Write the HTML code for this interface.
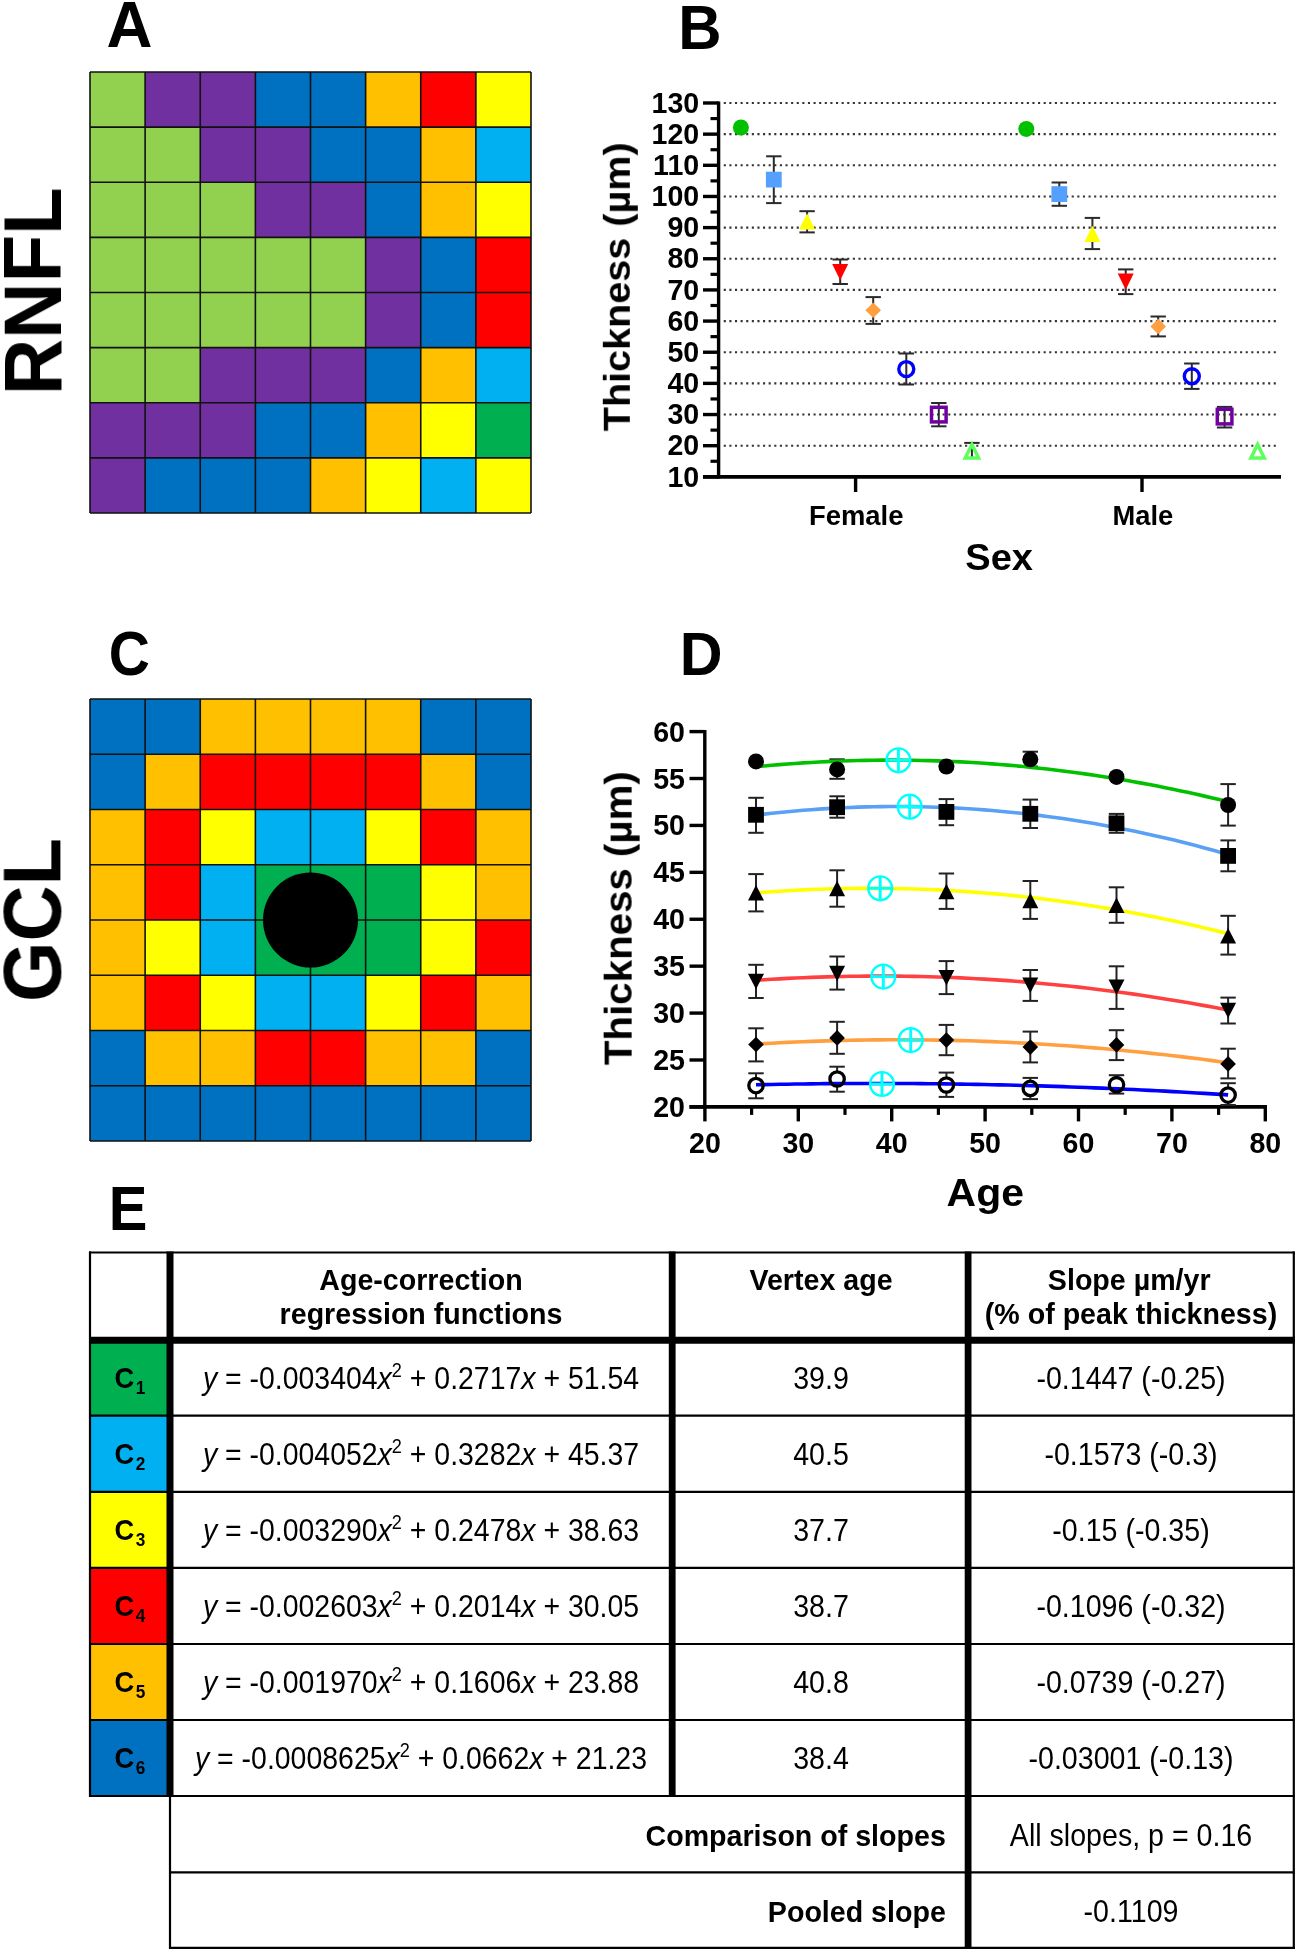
<!DOCTYPE html>
<html><head><meta charset="utf-8"><style>
text{filter:blur(0)}
html,body{margin:0;padding:0;background:#fff;width:1298px;height:1954px;overflow:hidden;}
body{position:relative;font-family:'Liberation Sans', sans-serif;}
</style></head><body>
<svg width="1298" height="1954" viewBox="0 0 1298 1954" style="position:absolute;left:0;top:0;font-family:'Liberation Sans', sans-serif">
<rect width="1298" height="1954" fill="#fff"/>
<rect x="90.00" y="72.00" width="55.17" height="55.17" fill="#92d050"/>
<rect x="145.12" y="72.00" width="55.17" height="55.17" fill="#7030a0"/>
<rect x="200.25" y="72.00" width="55.17" height="55.17" fill="#7030a0"/>
<rect x="255.38" y="72.00" width="55.17" height="55.17" fill="#0070c0"/>
<rect x="310.50" y="72.00" width="55.17" height="55.17" fill="#0070c0"/>
<rect x="365.62" y="72.00" width="55.17" height="55.17" fill="#ffc000"/>
<rect x="420.75" y="72.00" width="55.17" height="55.17" fill="#ff0000"/>
<rect x="475.88" y="72.00" width="55.17" height="55.17" fill="#ffff00"/>
<rect x="90.00" y="127.12" width="55.17" height="55.17" fill="#92d050"/>
<rect x="145.12" y="127.12" width="55.17" height="55.17" fill="#92d050"/>
<rect x="200.25" y="127.12" width="55.17" height="55.17" fill="#7030a0"/>
<rect x="255.38" y="127.12" width="55.17" height="55.17" fill="#7030a0"/>
<rect x="310.50" y="127.12" width="55.17" height="55.17" fill="#0070c0"/>
<rect x="365.62" y="127.12" width="55.17" height="55.17" fill="#0070c0"/>
<rect x="420.75" y="127.12" width="55.17" height="55.17" fill="#ffc000"/>
<rect x="475.88" y="127.12" width="55.17" height="55.17" fill="#00b0f0"/>
<rect x="90.00" y="182.25" width="55.17" height="55.17" fill="#92d050"/>
<rect x="145.12" y="182.25" width="55.17" height="55.17" fill="#92d050"/>
<rect x="200.25" y="182.25" width="55.17" height="55.17" fill="#92d050"/>
<rect x="255.38" y="182.25" width="55.17" height="55.17" fill="#7030a0"/>
<rect x="310.50" y="182.25" width="55.17" height="55.17" fill="#7030a0"/>
<rect x="365.62" y="182.25" width="55.17" height="55.17" fill="#0070c0"/>
<rect x="420.75" y="182.25" width="55.17" height="55.17" fill="#ffc000"/>
<rect x="475.88" y="182.25" width="55.17" height="55.17" fill="#ffff00"/>
<rect x="90.00" y="237.38" width="55.17" height="55.17" fill="#92d050"/>
<rect x="145.12" y="237.38" width="55.17" height="55.17" fill="#92d050"/>
<rect x="200.25" y="237.38" width="55.17" height="55.17" fill="#92d050"/>
<rect x="255.38" y="237.38" width="55.17" height="55.17" fill="#92d050"/>
<rect x="310.50" y="237.38" width="55.17" height="55.17" fill="#92d050"/>
<rect x="365.62" y="237.38" width="55.17" height="55.17" fill="#7030a0"/>
<rect x="420.75" y="237.38" width="55.17" height="55.17" fill="#0070c0"/>
<rect x="475.88" y="237.38" width="55.17" height="55.17" fill="#ff0000"/>
<rect x="90.00" y="292.50" width="55.17" height="55.17" fill="#92d050"/>
<rect x="145.12" y="292.50" width="55.17" height="55.17" fill="#92d050"/>
<rect x="200.25" y="292.50" width="55.17" height="55.17" fill="#92d050"/>
<rect x="255.38" y="292.50" width="55.17" height="55.17" fill="#92d050"/>
<rect x="310.50" y="292.50" width="55.17" height="55.17" fill="#92d050"/>
<rect x="365.62" y="292.50" width="55.17" height="55.17" fill="#7030a0"/>
<rect x="420.75" y="292.50" width="55.17" height="55.17" fill="#0070c0"/>
<rect x="475.88" y="292.50" width="55.17" height="55.17" fill="#ff0000"/>
<rect x="90.00" y="347.62" width="55.17" height="55.17" fill="#92d050"/>
<rect x="145.12" y="347.62" width="55.17" height="55.17" fill="#92d050"/>
<rect x="200.25" y="347.62" width="55.17" height="55.17" fill="#7030a0"/>
<rect x="255.38" y="347.62" width="55.17" height="55.17" fill="#7030a0"/>
<rect x="310.50" y="347.62" width="55.17" height="55.17" fill="#7030a0"/>
<rect x="365.62" y="347.62" width="55.17" height="55.17" fill="#0070c0"/>
<rect x="420.75" y="347.62" width="55.17" height="55.17" fill="#ffc000"/>
<rect x="475.88" y="347.62" width="55.17" height="55.17" fill="#00b0f0"/>
<rect x="90.00" y="402.75" width="55.17" height="55.17" fill="#7030a0"/>
<rect x="145.12" y="402.75" width="55.17" height="55.17" fill="#7030a0"/>
<rect x="200.25" y="402.75" width="55.17" height="55.17" fill="#7030a0"/>
<rect x="255.38" y="402.75" width="55.17" height="55.17" fill="#0070c0"/>
<rect x="310.50" y="402.75" width="55.17" height="55.17" fill="#0070c0"/>
<rect x="365.62" y="402.75" width="55.17" height="55.17" fill="#ffc000"/>
<rect x="420.75" y="402.75" width="55.17" height="55.17" fill="#ffff00"/>
<rect x="475.88" y="402.75" width="55.17" height="55.17" fill="#00b050"/>
<rect x="90.00" y="457.88" width="55.17" height="55.17" fill="#7030a0"/>
<rect x="145.12" y="457.88" width="55.17" height="55.17" fill="#0070c0"/>
<rect x="200.25" y="457.88" width="55.17" height="55.17" fill="#0070c0"/>
<rect x="255.38" y="457.88" width="55.17" height="55.17" fill="#0070c0"/>
<rect x="310.50" y="457.88" width="55.17" height="55.17" fill="#ffc000"/>
<rect x="365.62" y="457.88" width="55.17" height="55.17" fill="#ffff00"/>
<rect x="420.75" y="457.88" width="55.17" height="55.17" fill="#00b0f0"/>
<rect x="475.88" y="457.88" width="55.17" height="55.17" fill="#ffff00"/>
<line x1="90.00" y1="72.00" x2="90.00" y2="513.00" stroke="#111" stroke-width="1.6"/>
<line x1="90.00" y1="72.00" x2="531.00" y2="72.00" stroke="#111" stroke-width="1.6"/>
<line x1="145.12" y1="72.00" x2="145.12" y2="513.00" stroke="#111" stroke-width="1.6"/>
<line x1="90.00" y1="127.12" x2="531.00" y2="127.12" stroke="#111" stroke-width="1.6"/>
<line x1="200.25" y1="72.00" x2="200.25" y2="513.00" stroke="#111" stroke-width="1.6"/>
<line x1="90.00" y1="182.25" x2="531.00" y2="182.25" stroke="#111" stroke-width="1.6"/>
<line x1="255.38" y1="72.00" x2="255.38" y2="513.00" stroke="#111" stroke-width="1.6"/>
<line x1="90.00" y1="237.38" x2="531.00" y2="237.38" stroke="#111" stroke-width="1.6"/>
<line x1="310.50" y1="72.00" x2="310.50" y2="513.00" stroke="#111" stroke-width="1.6"/>
<line x1="90.00" y1="292.50" x2="531.00" y2="292.50" stroke="#111" stroke-width="1.6"/>
<line x1="365.62" y1="72.00" x2="365.62" y2="513.00" stroke="#111" stroke-width="1.6"/>
<line x1="90.00" y1="347.62" x2="531.00" y2="347.62" stroke="#111" stroke-width="1.6"/>
<line x1="420.75" y1="72.00" x2="420.75" y2="513.00" stroke="#111" stroke-width="1.6"/>
<line x1="90.00" y1="402.75" x2="531.00" y2="402.75" stroke="#111" stroke-width="1.6"/>
<line x1="475.88" y1="72.00" x2="475.88" y2="513.00" stroke="#111" stroke-width="1.6"/>
<line x1="90.00" y1="457.88" x2="531.00" y2="457.88" stroke="#111" stroke-width="1.6"/>
<line x1="531.00" y1="72.00" x2="531.00" y2="513.00" stroke="#111" stroke-width="1.6"/>
<line x1="90.00" y1="513.00" x2="531.00" y2="513.00" stroke="#111" stroke-width="1.6"/>
<rect x="90.00" y="699.00" width="55.17" height="55.30" fill="#0070c0"/>
<rect x="145.12" y="699.00" width="55.17" height="55.30" fill="#0070c0"/>
<rect x="200.25" y="699.00" width="55.17" height="55.30" fill="#ffc000"/>
<rect x="255.38" y="699.00" width="55.17" height="55.30" fill="#ffc000"/>
<rect x="310.50" y="699.00" width="55.17" height="55.30" fill="#ffc000"/>
<rect x="365.62" y="699.00" width="55.17" height="55.30" fill="#ffc000"/>
<rect x="420.75" y="699.00" width="55.17" height="55.30" fill="#0070c0"/>
<rect x="475.88" y="699.00" width="55.17" height="55.30" fill="#0070c0"/>
<rect x="90.00" y="754.25" width="55.17" height="55.30" fill="#0070c0"/>
<rect x="145.12" y="754.25" width="55.17" height="55.30" fill="#ffc000"/>
<rect x="200.25" y="754.25" width="55.17" height="55.30" fill="#ff0000"/>
<rect x="255.38" y="754.25" width="55.17" height="55.30" fill="#ff0000"/>
<rect x="310.50" y="754.25" width="55.17" height="55.30" fill="#ff0000"/>
<rect x="365.62" y="754.25" width="55.17" height="55.30" fill="#ff0000"/>
<rect x="420.75" y="754.25" width="55.17" height="55.30" fill="#ffc000"/>
<rect x="475.88" y="754.25" width="55.17" height="55.30" fill="#0070c0"/>
<rect x="90.00" y="809.50" width="55.17" height="55.30" fill="#ffc000"/>
<rect x="145.12" y="809.50" width="55.17" height="55.30" fill="#ff0000"/>
<rect x="200.25" y="809.50" width="55.17" height="55.30" fill="#ffff00"/>
<rect x="255.38" y="809.50" width="55.17" height="55.30" fill="#00b0f0"/>
<rect x="310.50" y="809.50" width="55.17" height="55.30" fill="#00b0f0"/>
<rect x="365.62" y="809.50" width="55.17" height="55.30" fill="#ffff00"/>
<rect x="420.75" y="809.50" width="55.17" height="55.30" fill="#ff0000"/>
<rect x="475.88" y="809.50" width="55.17" height="55.30" fill="#ffc000"/>
<rect x="90.00" y="864.75" width="55.17" height="55.30" fill="#ffc000"/>
<rect x="145.12" y="864.75" width="55.17" height="55.30" fill="#ff0000"/>
<rect x="200.25" y="864.75" width="55.17" height="55.30" fill="#00b0f0"/>
<rect x="255.38" y="864.75" width="55.17" height="55.30" fill="#00b050"/>
<rect x="310.50" y="864.75" width="55.17" height="55.30" fill="#00b050"/>
<rect x="365.62" y="864.75" width="55.17" height="55.30" fill="#00b050"/>
<rect x="420.75" y="864.75" width="55.17" height="55.30" fill="#ffff00"/>
<rect x="475.88" y="864.75" width="55.17" height="55.30" fill="#ffc000"/>
<rect x="90.00" y="920.00" width="55.17" height="55.30" fill="#ffc000"/>
<rect x="145.12" y="920.00" width="55.17" height="55.30" fill="#ffff00"/>
<rect x="200.25" y="920.00" width="55.17" height="55.30" fill="#00b0f0"/>
<rect x="255.38" y="920.00" width="55.17" height="55.30" fill="#00b050"/>
<rect x="310.50" y="920.00" width="55.17" height="55.30" fill="#00b050"/>
<rect x="365.62" y="920.00" width="55.17" height="55.30" fill="#00b050"/>
<rect x="420.75" y="920.00" width="55.17" height="55.30" fill="#ffff00"/>
<rect x="475.88" y="920.00" width="55.17" height="55.30" fill="#ff0000"/>
<rect x="90.00" y="975.25" width="55.17" height="55.30" fill="#ffc000"/>
<rect x="145.12" y="975.25" width="55.17" height="55.30" fill="#ff0000"/>
<rect x="200.25" y="975.25" width="55.17" height="55.30" fill="#ffff00"/>
<rect x="255.38" y="975.25" width="55.17" height="55.30" fill="#00b0f0"/>
<rect x="310.50" y="975.25" width="55.17" height="55.30" fill="#00b0f0"/>
<rect x="365.62" y="975.25" width="55.17" height="55.30" fill="#ffff00"/>
<rect x="420.75" y="975.25" width="55.17" height="55.30" fill="#ff0000"/>
<rect x="475.88" y="975.25" width="55.17" height="55.30" fill="#ffc000"/>
<rect x="90.00" y="1030.50" width="55.17" height="55.30" fill="#0070c0"/>
<rect x="145.12" y="1030.50" width="55.17" height="55.30" fill="#ffc000"/>
<rect x="200.25" y="1030.50" width="55.17" height="55.30" fill="#ffc000"/>
<rect x="255.38" y="1030.50" width="55.17" height="55.30" fill="#ff0000"/>
<rect x="310.50" y="1030.50" width="55.17" height="55.30" fill="#ff0000"/>
<rect x="365.62" y="1030.50" width="55.17" height="55.30" fill="#ffc000"/>
<rect x="420.75" y="1030.50" width="55.17" height="55.30" fill="#ffc000"/>
<rect x="475.88" y="1030.50" width="55.17" height="55.30" fill="#0070c0"/>
<rect x="90.00" y="1085.75" width="55.17" height="55.30" fill="#0070c0"/>
<rect x="145.12" y="1085.75" width="55.17" height="55.30" fill="#0070c0"/>
<rect x="200.25" y="1085.75" width="55.17" height="55.30" fill="#0070c0"/>
<rect x="255.38" y="1085.75" width="55.17" height="55.30" fill="#0070c0"/>
<rect x="310.50" y="1085.75" width="55.17" height="55.30" fill="#0070c0"/>
<rect x="365.62" y="1085.75" width="55.17" height="55.30" fill="#0070c0"/>
<rect x="420.75" y="1085.75" width="55.17" height="55.30" fill="#0070c0"/>
<rect x="475.88" y="1085.75" width="55.17" height="55.30" fill="#0070c0"/>
<line x1="90.00" y1="699.00" x2="90.00" y2="1141.00" stroke="#111" stroke-width="1.6"/>
<line x1="90.00" y1="699.00" x2="531.00" y2="699.00" stroke="#111" stroke-width="1.6"/>
<line x1="145.12" y1="699.00" x2="145.12" y2="1141.00" stroke="#111" stroke-width="1.6"/>
<line x1="90.00" y1="754.25" x2="531.00" y2="754.25" stroke="#111" stroke-width="1.6"/>
<line x1="200.25" y1="699.00" x2="200.25" y2="1141.00" stroke="#111" stroke-width="1.6"/>
<line x1="90.00" y1="809.50" x2="531.00" y2="809.50" stroke="#111" stroke-width="1.6"/>
<line x1="255.38" y1="699.00" x2="255.38" y2="1141.00" stroke="#111" stroke-width="1.6"/>
<line x1="90.00" y1="864.75" x2="531.00" y2="864.75" stroke="#111" stroke-width="1.6"/>
<line x1="310.50" y1="699.00" x2="310.50" y2="1141.00" stroke="#111" stroke-width="1.6"/>
<line x1="90.00" y1="920.00" x2="531.00" y2="920.00" stroke="#111" stroke-width="1.6"/>
<line x1="365.62" y1="699.00" x2="365.62" y2="1141.00" stroke="#111" stroke-width="1.6"/>
<line x1="90.00" y1="975.25" x2="531.00" y2="975.25" stroke="#111" stroke-width="1.6"/>
<line x1="420.75" y1="699.00" x2="420.75" y2="1141.00" stroke="#111" stroke-width="1.6"/>
<line x1="90.00" y1="1030.50" x2="531.00" y2="1030.50" stroke="#111" stroke-width="1.6"/>
<line x1="475.88" y1="699.00" x2="475.88" y2="1141.00" stroke="#111" stroke-width="1.6"/>
<line x1="90.00" y1="1085.75" x2="531.00" y2="1085.75" stroke="#111" stroke-width="1.6"/>
<line x1="531.00" y1="699.00" x2="531.00" y2="1141.00" stroke="#111" stroke-width="1.6"/>
<line x1="90.00" y1="1141.00" x2="531.00" y2="1141.00" stroke="#111" stroke-width="1.6"/>
<circle cx="310.5" cy="920" r="47.5" fill="#000"/>
<text transform="translate(106.41,46.60) scale(0.9928,1)" font-size="64.10" font-weight="bold" fill="#000">A</text>
<text transform="translate(678.28,48.70) scale(0.9446,1)" font-size="63.52" font-weight="bold" fill="#000">B</text>
<text transform="translate(108.67,675.46) scale(0.8949,1)" font-size="63.56" font-weight="bold" fill="#000">C</text>
<text transform="translate(679.73,675.30) scale(0.9632,1)" font-size="61.48" font-weight="bold" fill="#000">D</text>
<text transform="translate(108.82,1229.50) scale(0.9142,1)" font-size="63.37" font-weight="bold" fill="#000">E</text>
<text transform="translate(61.00,395.23) rotate(-90) scale(0.9617,1)" font-size="81.10" font-weight="bold" fill="#000">RNFL</text>
<text transform="translate(60.39,1001.99) rotate(-90) scale(0.9599,1)" font-size="80.93" font-weight="bold" fill="#000">GCL</text>
<line x1="723.75" y1="445.70" x2="1277" y2="445.70" stroke="#333" stroke-width="2.1" stroke-dasharray="2.1 3.512"/>
<line x1="723.75" y1="414.54" x2="1277" y2="414.54" stroke="#333" stroke-width="2.1" stroke-dasharray="2.1 3.512"/>
<line x1="723.75" y1="383.38" x2="1277" y2="383.38" stroke="#333" stroke-width="2.1" stroke-dasharray="2.1 3.512"/>
<line x1="723.75" y1="352.23" x2="1277" y2="352.23" stroke="#333" stroke-width="2.1" stroke-dasharray="2.1 3.512"/>
<line x1="723.75" y1="321.08" x2="1277" y2="321.08" stroke="#333" stroke-width="2.1" stroke-dasharray="2.1 3.512"/>
<line x1="723.75" y1="289.92" x2="1277" y2="289.92" stroke="#333" stroke-width="2.1" stroke-dasharray="2.1 3.512"/>
<line x1="723.75" y1="258.76" x2="1277" y2="258.76" stroke="#333" stroke-width="2.1" stroke-dasharray="2.1 3.512"/>
<line x1="723.75" y1="227.61" x2="1277" y2="227.61" stroke="#333" stroke-width="2.1" stroke-dasharray="2.1 3.512"/>
<line x1="723.75" y1="196.46" x2="1277" y2="196.46" stroke="#333" stroke-width="2.1" stroke-dasharray="2.1 3.512"/>
<line x1="723.75" y1="165.30" x2="1277" y2="165.30" stroke="#333" stroke-width="2.1" stroke-dasharray="2.1 3.512"/>
<line x1="723.75" y1="134.15" x2="1277" y2="134.15" stroke="#333" stroke-width="2.1" stroke-dasharray="2.1 3.512"/>
<line x1="723.75" y1="102.99" x2="1277" y2="102.99" stroke="#333" stroke-width="2.1" stroke-dasharray="2.1 3.512"/>
<line x1="718.6" y1="101.39" x2="718.6" y2="478.45" stroke="#000" stroke-width="3.4"/>
<line x1="703" y1="476.85" x2="1281" y2="476.85" stroke="#000" stroke-width="3.6"/>
<line x1="703" y1="476.85" x2="718.6" y2="476.85" stroke="#000" stroke-width="3.4"/>
<text transform="translate(699.20,486.55) scale(0.94,1)" font-size="30.4" font-weight="bold" text-anchor="end">10</text>
<line x1="703" y1="445.70" x2="718.6" y2="445.70" stroke="#000" stroke-width="3.4"/>
<text transform="translate(699.20,455.40) scale(0.94,1)" font-size="30.4" font-weight="bold" text-anchor="end">20</text>
<line x1="703" y1="414.54" x2="718.6" y2="414.54" stroke="#000" stroke-width="3.4"/>
<text transform="translate(699.20,424.24) scale(0.94,1)" font-size="30.4" font-weight="bold" text-anchor="end">30</text>
<line x1="703" y1="383.38" x2="718.6" y2="383.38" stroke="#000" stroke-width="3.4"/>
<text transform="translate(699.20,393.08) scale(0.94,1)" font-size="30.4" font-weight="bold" text-anchor="end">40</text>
<line x1="703" y1="352.23" x2="718.6" y2="352.23" stroke="#000" stroke-width="3.4"/>
<text transform="translate(699.20,361.93) scale(0.94,1)" font-size="30.4" font-weight="bold" text-anchor="end">50</text>
<line x1="703" y1="321.08" x2="718.6" y2="321.08" stroke="#000" stroke-width="3.4"/>
<text transform="translate(699.20,330.78) scale(0.94,1)" font-size="30.4" font-weight="bold" text-anchor="end">60</text>
<line x1="703" y1="289.92" x2="718.6" y2="289.92" stroke="#000" stroke-width="3.4"/>
<text transform="translate(699.20,299.62) scale(0.94,1)" font-size="30.4" font-weight="bold" text-anchor="end">70</text>
<line x1="703" y1="258.76" x2="718.6" y2="258.76" stroke="#000" stroke-width="3.4"/>
<text transform="translate(699.20,268.46) scale(0.94,1)" font-size="30.4" font-weight="bold" text-anchor="end">80</text>
<line x1="703" y1="227.61" x2="718.6" y2="227.61" stroke="#000" stroke-width="3.4"/>
<text transform="translate(699.20,237.31) scale(0.94,1)" font-size="30.4" font-weight="bold" text-anchor="end">90</text>
<line x1="703" y1="196.46" x2="718.6" y2="196.46" stroke="#000" stroke-width="3.4"/>
<text transform="translate(699.20,206.16) scale(0.94,1)" font-size="30.4" font-weight="bold" text-anchor="end">100</text>
<line x1="703" y1="165.30" x2="718.6" y2="165.30" stroke="#000" stroke-width="3.4"/>
<text transform="translate(699.20,175.00) scale(0.94,1)" font-size="30.4" font-weight="bold" text-anchor="end">110</text>
<line x1="703" y1="134.15" x2="718.6" y2="134.15" stroke="#000" stroke-width="3.4"/>
<text transform="translate(699.20,143.85) scale(0.94,1)" font-size="30.4" font-weight="bold" text-anchor="end">120</text>
<line x1="703" y1="102.99" x2="718.6" y2="102.99" stroke="#000" stroke-width="3.4"/>
<text transform="translate(699.20,112.69) scale(0.94,1)" font-size="30.4" font-weight="bold" text-anchor="end">130</text>
<line x1="710.5" y1="461.27" x2="718.6" y2="461.27" stroke="#000" stroke-width="3.2"/>
<line x1="710.5" y1="430.12" x2="718.6" y2="430.12" stroke="#000" stroke-width="3.2"/>
<line x1="710.5" y1="398.96" x2="718.6" y2="398.96" stroke="#000" stroke-width="3.2"/>
<line x1="710.5" y1="367.81" x2="718.6" y2="367.81" stroke="#000" stroke-width="3.2"/>
<line x1="710.5" y1="336.65" x2="718.6" y2="336.65" stroke="#000" stroke-width="3.2"/>
<line x1="710.5" y1="305.50" x2="718.6" y2="305.50" stroke="#000" stroke-width="3.2"/>
<line x1="710.5" y1="274.34" x2="718.6" y2="274.34" stroke="#000" stroke-width="3.2"/>
<line x1="710.5" y1="243.19" x2="718.6" y2="243.19" stroke="#000" stroke-width="3.2"/>
<line x1="710.5" y1="212.03" x2="718.6" y2="212.03" stroke="#000" stroke-width="3.2"/>
<line x1="710.5" y1="180.88" x2="718.6" y2="180.88" stroke="#000" stroke-width="3.2"/>
<line x1="710.5" y1="149.72" x2="718.6" y2="149.72" stroke="#000" stroke-width="3.2"/>
<line x1="710.5" y1="118.57" x2="718.6" y2="118.57" stroke="#000" stroke-width="3.2"/>
<line x1="855.6" y1="476.85" x2="855.6" y2="492" stroke="#000" stroke-width="3.4"/>
<line x1="1142" y1="476.85" x2="1142" y2="492" stroke="#000" stroke-width="3.4"/>
<text transform="translate(808.96,525.13) scale(1.0086,1)" font-size="27.21" font-weight="bold" fill="#000">Female</text>
<text transform="translate(1112.47,525.13) scale(1.0045,1)" font-size="27.21" font-weight="bold" fill="#000">Male</text>
<text transform="translate(965.30,570.32) scale(1.0092,1)" font-size="37.71" font-weight="bold" fill="#000">Sex</text>
<text transform="translate(629.82,431.24) rotate(-90) scale(1.0580,1)" font-size="37.41" font-weight="bold" fill="#000">Thickness (µm)</text>
<circle cx="740.90" cy="127.50" r="8.00" fill="#00c000"/>
<line x1="773.80" y1="156.30" x2="773.80" y2="203.10" stroke="#2a2a2a" stroke-width="2.0"/>
<line x1="766.10" y1="156.30" x2="781.50" y2="156.30" stroke="#2a2a2a" stroke-width="2.0"/>
<line x1="766.10" y1="203.10" x2="781.50" y2="203.10" stroke="#2a2a2a" stroke-width="2.0"/>
<rect x="765.90" y="171.70" width="15.80" height="15.80" fill="#559fff"/>
<line x1="807.10" y1="211.20" x2="807.10" y2="232.40" stroke="#2a2a2a" stroke-width="2.0"/>
<line x1="799.40" y1="211.20" x2="814.80" y2="211.20" stroke="#2a2a2a" stroke-width="2.0"/>
<line x1="799.40" y1="232.40" x2="814.80" y2="232.40" stroke="#2a2a2a" stroke-width="2.0"/>
<polygon points="807.10,213.20 815.10,229.40 799.10,229.40" fill="#ffff00"/>
<line x1="840.20" y1="259.50" x2="840.20" y2="284.00" stroke="#2a2a2a" stroke-width="2.0"/>
<line x1="832.50" y1="259.50" x2="847.90" y2="259.50" stroke="#2a2a2a" stroke-width="2.0"/>
<line x1="832.50" y1="284.00" x2="847.90" y2="284.00" stroke="#2a2a2a" stroke-width="2.0"/>
<polygon points="832.20,264.10 848.20,264.10 840.20,280.30" fill="#ff0000"/>
<line x1="873.20" y1="297.10" x2="873.20" y2="323.90" stroke="#2a2a2a" stroke-width="2.0"/>
<line x1="865.50" y1="297.10" x2="880.90" y2="297.10" stroke="#2a2a2a" stroke-width="2.0"/>
<line x1="865.50" y1="323.90" x2="880.90" y2="323.90" stroke="#2a2a2a" stroke-width="2.0"/>
<polygon points="873.20,302.50 881.00,310.30 873.20,318.10 865.40,310.30" fill="#ff9f40"/>
<line x1="906.30" y1="353.50" x2="906.30" y2="384.50" stroke="#2a2a2a" stroke-width="2.0"/>
<line x1="898.60" y1="353.50" x2="914.00" y2="353.50" stroke="#2a2a2a" stroke-width="2.0"/>
<line x1="898.60" y1="384.50" x2="914.00" y2="384.50" stroke="#2a2a2a" stroke-width="2.0"/>
<circle cx="906.30" cy="369.10" r="7.50" fill="none" stroke="#0000ff" stroke-width="3.4"/>
<line x1="938.80" y1="403.00" x2="938.80" y2="426.30" stroke="#2a2a2a" stroke-width="2.0"/>
<line x1="931.10" y1="403.00" x2="946.50" y2="403.00" stroke="#2a2a2a" stroke-width="2.0"/>
<line x1="931.10" y1="426.30" x2="946.50" y2="426.30" stroke="#2a2a2a" stroke-width="2.0"/>
<rect x="931.50" y="407.30" width="14.60" height="14.60" fill="none" stroke="#7000a0" stroke-width="3.5"/>
<line x1="971.90" y1="442.90" x2="971.90" y2="458.00" stroke="#2a2a2a" stroke-width="2.0"/>
<line x1="964.20" y1="442.90" x2="979.60" y2="442.90" stroke="#2a2a2a" stroke-width="2.0"/>
<line x1="964.20" y1="458.00" x2="979.60" y2="458.00" stroke="#2a2a2a" stroke-width="2.0"/>
<polygon points="971.90,444.40 978.57,458.10 965.23,458.10" fill="none" stroke="#5cff5c" stroke-width="3.5" stroke-linejoin="miter"/>
<circle cx="1026.30" cy="128.90" r="8.00" fill="#00c000"/>
<line x1="1059.30" y1="182.50" x2="1059.30" y2="205.80" stroke="#2a2a2a" stroke-width="2.0"/>
<line x1="1051.60" y1="182.50" x2="1067.00" y2="182.50" stroke="#2a2a2a" stroke-width="2.0"/>
<line x1="1051.60" y1="205.80" x2="1067.00" y2="205.80" stroke="#2a2a2a" stroke-width="2.0"/>
<rect x="1051.40" y="186.20" width="15.80" height="15.80" fill="#559fff"/>
<line x1="1092.40" y1="217.90" x2="1092.40" y2="249.10" stroke="#2a2a2a" stroke-width="2.0"/>
<line x1="1084.70" y1="217.90" x2="1100.10" y2="217.90" stroke="#2a2a2a" stroke-width="2.0"/>
<line x1="1084.70" y1="249.10" x2="1100.10" y2="249.10" stroke="#2a2a2a" stroke-width="2.0"/>
<polygon points="1092.40,225.70 1100.40,241.90 1084.40,241.90" fill="#ffff00"/>
<line x1="1125.70" y1="269.40" x2="1125.70" y2="294.10" stroke="#2a2a2a" stroke-width="2.0"/>
<line x1="1118.00" y1="269.40" x2="1133.40" y2="269.40" stroke="#2a2a2a" stroke-width="2.0"/>
<line x1="1118.00" y1="294.10" x2="1133.40" y2="294.10" stroke="#2a2a2a" stroke-width="2.0"/>
<polygon points="1117.70,273.60 1133.70,273.60 1125.70,289.80" fill="#ff0000"/>
<line x1="1158.20" y1="316.50" x2="1158.20" y2="336.40" stroke="#2a2a2a" stroke-width="2.0"/>
<line x1="1150.50" y1="316.50" x2="1165.90" y2="316.50" stroke="#2a2a2a" stroke-width="2.0"/>
<line x1="1150.50" y1="336.40" x2="1165.90" y2="336.40" stroke="#2a2a2a" stroke-width="2.0"/>
<polygon points="1158.20,318.70 1166.00,326.50 1158.20,334.30 1150.40,326.50" fill="#ff9f40"/>
<line x1="1191.80" y1="363.50" x2="1191.80" y2="388.90" stroke="#2a2a2a" stroke-width="2.0"/>
<line x1="1184.10" y1="363.50" x2="1199.50" y2="363.50" stroke="#2a2a2a" stroke-width="2.0"/>
<line x1="1184.10" y1="388.90" x2="1199.50" y2="388.90" stroke="#2a2a2a" stroke-width="2.0"/>
<circle cx="1191.80" cy="376.20" r="7.50" fill="none" stroke="#0000ff" stroke-width="3.4"/>
<line x1="1224.60" y1="406.90" x2="1224.60" y2="427.50" stroke="#2a2a2a" stroke-width="2.0"/>
<line x1="1216.90" y1="406.90" x2="1232.30" y2="406.90" stroke="#2a2a2a" stroke-width="2.0"/>
<line x1="1216.90" y1="427.50" x2="1232.30" y2="427.50" stroke="#2a2a2a" stroke-width="2.0"/>
<rect x="1217.30" y="409.30" width="14.60" height="14.60" fill="none" stroke="#7000a0" stroke-width="3.5"/>
<polygon points="1257.60,444.40 1264.27,458.10 1250.92,458.10" fill="none" stroke="#5cff5c" stroke-width="3.5" stroke-linejoin="miter"/>
<line x1="704.8" y1="730.00" x2="704.8" y2="1108.50" stroke="#000" stroke-width="3.4"/>
<line x1="689.5" y1="1106.90" x2="1267" y2="1106.90" stroke="#000" stroke-width="3.6"/>
<line x1="689.5" y1="1106.90" x2="704.8" y2="1106.90" stroke="#000" stroke-width="3.4"/>
<text transform="translate(685.00,1116.90) scale(0.94,1)" font-size="30.4" font-weight="bold" text-anchor="end">20</text>
<line x1="689.5" y1="1059.99" x2="704.8" y2="1059.99" stroke="#000" stroke-width="3.4"/>
<text transform="translate(685.00,1069.99) scale(0.94,1)" font-size="30.4" font-weight="bold" text-anchor="end">25</text>
<line x1="689.5" y1="1013.08" x2="704.8" y2="1013.08" stroke="#000" stroke-width="3.4"/>
<text transform="translate(685.00,1023.08) scale(0.94,1)" font-size="30.4" font-weight="bold" text-anchor="end">30</text>
<line x1="689.5" y1="966.16" x2="704.8" y2="966.16" stroke="#000" stroke-width="3.4"/>
<text transform="translate(685.00,976.16) scale(0.94,1)" font-size="30.4" font-weight="bold" text-anchor="end">35</text>
<line x1="689.5" y1="919.25" x2="704.8" y2="919.25" stroke="#000" stroke-width="3.4"/>
<text transform="translate(685.00,929.25) scale(0.94,1)" font-size="30.4" font-weight="bold" text-anchor="end">40</text>
<line x1="689.5" y1="872.34" x2="704.8" y2="872.34" stroke="#000" stroke-width="3.4"/>
<text transform="translate(685.00,882.34) scale(0.94,1)" font-size="30.4" font-weight="bold" text-anchor="end">45</text>
<line x1="689.5" y1="825.43" x2="704.8" y2="825.43" stroke="#000" stroke-width="3.4"/>
<text transform="translate(685.00,835.43) scale(0.94,1)" font-size="30.4" font-weight="bold" text-anchor="end">50</text>
<line x1="689.5" y1="778.51" x2="704.8" y2="778.51" stroke="#000" stroke-width="3.4"/>
<text transform="translate(685.00,788.51) scale(0.94,1)" font-size="30.4" font-weight="bold" text-anchor="end">55</text>
<line x1="689.5" y1="731.60" x2="704.8" y2="731.60" stroke="#000" stroke-width="3.4"/>
<text transform="translate(685.00,741.60) scale(0.94,1)" font-size="30.4" font-weight="bold" text-anchor="end">60</text>
<line x1="704.90" y1="1106.90" x2="704.90" y2="1121.4" stroke="#000" stroke-width="3.4"/>
<text transform="translate(704.90,1152.50) scale(0.94,1)" font-size="30.4" font-weight="bold" text-anchor="middle">20</text>
<line x1="798.30" y1="1106.90" x2="798.30" y2="1121.4" stroke="#000" stroke-width="3.4"/>
<text transform="translate(798.30,1152.50) scale(0.94,1)" font-size="30.4" font-weight="bold" text-anchor="middle">30</text>
<line x1="891.70" y1="1106.90" x2="891.70" y2="1121.4" stroke="#000" stroke-width="3.4"/>
<text transform="translate(891.70,1152.50) scale(0.94,1)" font-size="30.4" font-weight="bold" text-anchor="middle">40</text>
<line x1="985.10" y1="1106.90" x2="985.10" y2="1121.4" stroke="#000" stroke-width="3.4"/>
<text transform="translate(985.10,1152.50) scale(0.94,1)" font-size="30.4" font-weight="bold" text-anchor="middle">50</text>
<line x1="1078.50" y1="1106.90" x2="1078.50" y2="1121.4" stroke="#000" stroke-width="3.4"/>
<text transform="translate(1078.50,1152.50) scale(0.94,1)" font-size="30.4" font-weight="bold" text-anchor="middle">60</text>
<line x1="1171.90" y1="1106.90" x2="1171.90" y2="1121.4" stroke="#000" stroke-width="3.4"/>
<text transform="translate(1171.90,1152.50) scale(0.94,1)" font-size="30.4" font-weight="bold" text-anchor="middle">70</text>
<line x1="1265.30" y1="1106.90" x2="1265.30" y2="1121.4" stroke="#000" stroke-width="3.4"/>
<text transform="translate(1265.30,1152.50) scale(0.94,1)" font-size="30.4" font-weight="bold" text-anchor="middle">80</text>
<line x1="751.60" y1="1106.90" x2="751.60" y2="1114.9" stroke="#000" stroke-width="3.2"/>
<line x1="845.00" y1="1106.90" x2="845.00" y2="1114.9" stroke="#000" stroke-width="3.2"/>
<line x1="938.40" y1="1106.90" x2="938.40" y2="1114.9" stroke="#000" stroke-width="3.2"/>
<line x1="1031.80" y1="1106.90" x2="1031.80" y2="1114.9" stroke="#000" stroke-width="3.2"/>
<line x1="1125.20" y1="1106.90" x2="1125.20" y2="1114.9" stroke="#000" stroke-width="3.2"/>
<line x1="1218.60" y1="1106.90" x2="1218.60" y2="1114.9" stroke="#000" stroke-width="3.2"/>
<text transform="translate(946.58,1205.53) scale(1.0616,1)" font-size="38.56" font-weight="bold" fill="#000">Age</text>
<text transform="translate(631.64,1065.14) rotate(-90) scale(1.0527,1)" font-size="38.26" font-weight="bold" fill="#000">Thickness (µm)</text>
<line x1="756.00" y1="797.80" x2="756.00" y2="832.80" stroke="#222" stroke-width="2.0"/>
<line x1="748.30" y1="797.80" x2="763.70" y2="797.80" stroke="#222" stroke-width="2.0"/>
<line x1="748.30" y1="832.80" x2="763.70" y2="832.80" stroke="#222" stroke-width="2.0"/>
<line x1="756.00" y1="874.10" x2="756.00" y2="911.40" stroke="#222" stroke-width="2.0"/>
<line x1="748.30" y1="874.10" x2="763.70" y2="874.10" stroke="#222" stroke-width="2.0"/>
<line x1="748.30" y1="911.40" x2="763.70" y2="911.40" stroke="#222" stroke-width="2.0"/>
<line x1="756.00" y1="964.80" x2="756.00" y2="998.00" stroke="#222" stroke-width="2.0"/>
<line x1="748.30" y1="964.80" x2="763.70" y2="964.80" stroke="#222" stroke-width="2.0"/>
<line x1="748.30" y1="998.00" x2="763.70" y2="998.00" stroke="#222" stroke-width="2.0"/>
<line x1="756.00" y1="1028.30" x2="756.00" y2="1061.40" stroke="#222" stroke-width="2.0"/>
<line x1="748.30" y1="1028.30" x2="763.70" y2="1028.30" stroke="#222" stroke-width="2.0"/>
<line x1="748.30" y1="1061.40" x2="763.70" y2="1061.40" stroke="#222" stroke-width="2.0"/>
<line x1="756.00" y1="1073.30" x2="756.00" y2="1098.30" stroke="#222" stroke-width="2.0"/>
<line x1="748.30" y1="1073.30" x2="763.70" y2="1073.30" stroke="#222" stroke-width="2.0"/>
<line x1="748.30" y1="1098.30" x2="763.70" y2="1098.30" stroke="#222" stroke-width="2.0"/>
<line x1="837.10" y1="759.30" x2="837.10" y2="778.80" stroke="#222" stroke-width="2.0"/>
<line x1="829.40" y1="759.30" x2="844.80" y2="759.30" stroke="#222" stroke-width="2.0"/>
<line x1="829.40" y1="778.80" x2="844.80" y2="778.80" stroke="#222" stroke-width="2.0"/>
<line x1="837.10" y1="796.30" x2="837.10" y2="817.70" stroke="#222" stroke-width="2.0"/>
<line x1="829.40" y1="796.30" x2="844.80" y2="796.30" stroke="#222" stroke-width="2.0"/>
<line x1="829.40" y1="817.70" x2="844.80" y2="817.70" stroke="#222" stroke-width="2.0"/>
<line x1="837.10" y1="870.30" x2="837.10" y2="906.70" stroke="#222" stroke-width="2.0"/>
<line x1="829.40" y1="870.30" x2="844.80" y2="870.30" stroke="#222" stroke-width="2.0"/>
<line x1="829.40" y1="906.70" x2="844.80" y2="906.70" stroke="#222" stroke-width="2.0"/>
<line x1="837.10" y1="956.50" x2="837.10" y2="989.60" stroke="#222" stroke-width="2.0"/>
<line x1="829.40" y1="956.50" x2="844.80" y2="956.50" stroke="#222" stroke-width="2.0"/>
<line x1="829.40" y1="989.60" x2="844.80" y2="989.60" stroke="#222" stroke-width="2.0"/>
<line x1="837.10" y1="1021.80" x2="837.10" y2="1053.80" stroke="#222" stroke-width="2.0"/>
<line x1="829.40" y1="1021.80" x2="844.80" y2="1021.80" stroke="#222" stroke-width="2.0"/>
<line x1="829.40" y1="1053.80" x2="844.80" y2="1053.80" stroke="#222" stroke-width="2.0"/>
<line x1="837.10" y1="1066.70" x2="837.10" y2="1091.70" stroke="#222" stroke-width="2.0"/>
<line x1="829.40" y1="1066.70" x2="844.80" y2="1066.70" stroke="#222" stroke-width="2.0"/>
<line x1="829.40" y1="1091.70" x2="844.80" y2="1091.70" stroke="#222" stroke-width="2.0"/>
<line x1="946.40" y1="799.10" x2="946.40" y2="825.20" stroke="#222" stroke-width="2.0"/>
<line x1="938.70" y1="799.10" x2="954.10" y2="799.10" stroke="#222" stroke-width="2.0"/>
<line x1="938.70" y1="825.20" x2="954.10" y2="825.20" stroke="#222" stroke-width="2.0"/>
<line x1="946.40" y1="873.50" x2="946.40" y2="908.90" stroke="#222" stroke-width="2.0"/>
<line x1="938.70" y1="873.50" x2="954.10" y2="873.50" stroke="#222" stroke-width="2.0"/>
<line x1="938.70" y1="908.90" x2="954.10" y2="908.90" stroke="#222" stroke-width="2.0"/>
<line x1="946.40" y1="961.10" x2="946.40" y2="994.10" stroke="#222" stroke-width="2.0"/>
<line x1="938.70" y1="961.10" x2="954.10" y2="961.10" stroke="#222" stroke-width="2.0"/>
<line x1="938.70" y1="994.10" x2="954.10" y2="994.10" stroke="#222" stroke-width="2.0"/>
<line x1="946.40" y1="1024.90" x2="946.40" y2="1055.20" stroke="#222" stroke-width="2.0"/>
<line x1="938.70" y1="1024.90" x2="954.10" y2="1024.90" stroke="#222" stroke-width="2.0"/>
<line x1="938.70" y1="1055.20" x2="954.10" y2="1055.20" stroke="#222" stroke-width="2.0"/>
<line x1="946.40" y1="1072.60" x2="946.40" y2="1096.90" stroke="#222" stroke-width="2.0"/>
<line x1="938.70" y1="1072.60" x2="954.10" y2="1072.60" stroke="#222" stroke-width="2.0"/>
<line x1="938.70" y1="1096.90" x2="954.10" y2="1096.90" stroke="#222" stroke-width="2.0"/>
<line x1="1030.30" y1="751.70" x2="1030.30" y2="766.50" stroke="#222" stroke-width="2.0"/>
<line x1="1022.60" y1="751.70" x2="1038.00" y2="751.70" stroke="#222" stroke-width="2.0"/>
<line x1="1022.60" y1="766.50" x2="1038.00" y2="766.50" stroke="#222" stroke-width="2.0"/>
<line x1="1030.30" y1="799.60" x2="1030.30" y2="828.00" stroke="#222" stroke-width="2.0"/>
<line x1="1022.60" y1="799.60" x2="1038.00" y2="799.60" stroke="#222" stroke-width="2.0"/>
<line x1="1022.60" y1="828.00" x2="1038.00" y2="828.00" stroke="#222" stroke-width="2.0"/>
<line x1="1030.30" y1="881.00" x2="1030.30" y2="918.90" stroke="#222" stroke-width="2.0"/>
<line x1="1022.60" y1="881.00" x2="1038.00" y2="881.00" stroke="#222" stroke-width="2.0"/>
<line x1="1022.60" y1="918.90" x2="1038.00" y2="918.90" stroke="#222" stroke-width="2.0"/>
<line x1="1030.30" y1="970.00" x2="1030.30" y2="1000.90" stroke="#222" stroke-width="2.0"/>
<line x1="1022.60" y1="970.00" x2="1038.00" y2="970.00" stroke="#222" stroke-width="2.0"/>
<line x1="1022.60" y1="1000.90" x2="1038.00" y2="1000.90" stroke="#222" stroke-width="2.0"/>
<line x1="1030.30" y1="1031.60" x2="1030.30" y2="1062.40" stroke="#222" stroke-width="2.0"/>
<line x1="1022.60" y1="1031.60" x2="1038.00" y2="1031.60" stroke="#222" stroke-width="2.0"/>
<line x1="1022.60" y1="1062.40" x2="1038.00" y2="1062.40" stroke="#222" stroke-width="2.0"/>
<line x1="1030.30" y1="1077.90" x2="1030.30" y2="1099.10" stroke="#222" stroke-width="2.0"/>
<line x1="1022.60" y1="1077.90" x2="1038.00" y2="1077.90" stroke="#222" stroke-width="2.0"/>
<line x1="1022.60" y1="1099.10" x2="1038.00" y2="1099.10" stroke="#222" stroke-width="2.0"/>
<line x1="1116.50" y1="813.90" x2="1116.50" y2="832.80" stroke="#222" stroke-width="2.0"/>
<line x1="1108.80" y1="813.90" x2="1124.20" y2="813.90" stroke="#222" stroke-width="2.0"/>
<line x1="1108.80" y1="832.80" x2="1124.20" y2="832.80" stroke="#222" stroke-width="2.0"/>
<line x1="1116.50" y1="887.30" x2="1116.50" y2="922.80" stroke="#222" stroke-width="2.0"/>
<line x1="1108.80" y1="887.30" x2="1124.20" y2="887.30" stroke="#222" stroke-width="2.0"/>
<line x1="1108.80" y1="922.80" x2="1124.20" y2="922.80" stroke="#222" stroke-width="2.0"/>
<line x1="1116.50" y1="966.30" x2="1116.50" y2="1008.90" stroke="#222" stroke-width="2.0"/>
<line x1="1108.80" y1="966.30" x2="1124.20" y2="966.30" stroke="#222" stroke-width="2.0"/>
<line x1="1108.80" y1="1008.90" x2="1124.20" y2="1008.90" stroke="#222" stroke-width="2.0"/>
<line x1="1116.50" y1="1030.20" x2="1116.50" y2="1060.10" stroke="#222" stroke-width="2.0"/>
<line x1="1108.80" y1="1030.20" x2="1124.20" y2="1030.20" stroke="#222" stroke-width="2.0"/>
<line x1="1108.80" y1="1060.10" x2="1124.20" y2="1060.10" stroke="#222" stroke-width="2.0"/>
<line x1="1116.50" y1="1075.20" x2="1116.50" y2="1093.60" stroke="#222" stroke-width="2.0"/>
<line x1="1108.80" y1="1075.20" x2="1124.20" y2="1075.20" stroke="#222" stroke-width="2.0"/>
<line x1="1108.80" y1="1093.60" x2="1124.20" y2="1093.60" stroke="#222" stroke-width="2.0"/>
<line x1="1228.10" y1="784.10" x2="1228.10" y2="825.60" stroke="#222" stroke-width="2.0"/>
<line x1="1220.40" y1="784.10" x2="1235.80" y2="784.10" stroke="#222" stroke-width="2.0"/>
<line x1="1220.40" y1="825.60" x2="1235.80" y2="825.60" stroke="#222" stroke-width="2.0"/>
<line x1="1228.10" y1="840.40" x2="1228.10" y2="871.30" stroke="#222" stroke-width="2.0"/>
<line x1="1220.40" y1="840.40" x2="1235.80" y2="840.40" stroke="#222" stroke-width="2.0"/>
<line x1="1220.40" y1="871.30" x2="1235.80" y2="871.30" stroke="#222" stroke-width="2.0"/>
<line x1="1228.10" y1="915.80" x2="1228.10" y2="954.60" stroke="#222" stroke-width="2.0"/>
<line x1="1220.40" y1="915.80" x2="1235.80" y2="915.80" stroke="#222" stroke-width="2.0"/>
<line x1="1220.40" y1="954.60" x2="1235.80" y2="954.60" stroke="#222" stroke-width="2.0"/>
<line x1="1228.10" y1="997.60" x2="1228.10" y2="1023.50" stroke="#222" stroke-width="2.0"/>
<line x1="1220.40" y1="997.60" x2="1235.80" y2="997.60" stroke="#222" stroke-width="2.0"/>
<line x1="1220.40" y1="1023.50" x2="1235.80" y2="1023.50" stroke="#222" stroke-width="2.0"/>
<line x1="1228.10" y1="1048.70" x2="1228.10" y2="1078.40" stroke="#222" stroke-width="2.0"/>
<line x1="1220.40" y1="1048.70" x2="1235.80" y2="1048.70" stroke="#222" stroke-width="2.0"/>
<line x1="1220.40" y1="1078.40" x2="1235.80" y2="1078.40" stroke="#222" stroke-width="2.0"/>
<line x1="1228.10" y1="1083.20" x2="1228.10" y2="1105.00" stroke="#222" stroke-width="2.0"/>
<line x1="1220.40" y1="1083.20" x2="1235.80" y2="1083.20" stroke="#222" stroke-width="2.0"/>
<line x1="1220.40" y1="1105.00" x2="1235.80" y2="1105.00" stroke="#222" stroke-width="2.0"/>
<circle cx="756.00" cy="1085.60" r="7.2" fill="#fff"/>
<circle cx="837.10" cy="1079.00" r="7.2" fill="#fff"/>
<circle cx="946.40" cy="1085.00" r="7.2" fill="#fff"/>
<circle cx="1030.30" cy="1088.40" r="7.2" fill="#fff"/>
<circle cx="1116.50" cy="1084.70" r="7.2" fill="#fff"/>
<circle cx="1228.10" cy="1095.10" r="7.2" fill="#fff"/>
<circle cx="898.4" cy="760.3" r="11.9" fill="#fff"/>
<circle cx="909.7" cy="806.7" r="11.9" fill="#fff"/>
<circle cx="880.2" cy="888.3" r="11.9" fill="#fff"/>
<circle cx="883.3" cy="976.6" r="11.9" fill="#fff"/>
<circle cx="910.7" cy="1040.1" r="11.9" fill="#fff"/>
<circle cx="882.0" cy="1084.0" r="11.9" fill="#fff"/>
<polyline points="756.00,766.77 763.87,766.01 771.74,765.30 779.61,764.64 787.47,764.02 795.34,763.45 803.21,762.92 811.08,762.44 818.95,762.00 826.81,761.61 834.68,761.26 842.55,760.96 850.42,760.71 858.29,760.50 866.16,760.33 874.02,760.21 881.89,760.14 889.76,760.11 897.63,760.12 905.50,760.19 913.37,760.29 921.24,760.45 929.10,760.64 936.97,760.89 944.84,761.17 952.71,761.51 960.58,761.89 968.44,762.31 976.31,762.78 984.18,763.30 992.05,763.86 999.92,764.46 1007.79,765.11 1015.65,765.81 1023.52,766.55 1031.39,767.34 1039.26,768.17 1047.13,769.05 1055.00,769.97 1062.87,770.94 1070.73,771.95 1078.60,773.01 1086.47,774.12 1094.34,775.27 1102.21,776.46 1110.07,777.70 1117.94,778.99 1125.81,780.32 1133.68,781.70 1141.55,783.12 1149.42,784.58 1157.28,786.10 1165.15,787.65 1173.02,789.26 1180.89,790.91 1188.76,792.60 1196.63,794.34 1204.49,796.12 1212.36,797.95 1220.23,799.83 1228.10,801.75" fill="none" stroke="#00c000" stroke-width="3.6"/>
<polyline points="756.00,815.10 763.87,814.16 771.74,813.28 779.61,812.45 787.47,811.68 795.34,810.96 803.21,810.29 811.08,809.68 818.95,809.12 826.81,808.62 834.68,808.17 842.55,807.77 850.42,807.43 858.29,807.14 866.16,806.91 874.02,806.73 881.89,806.60 889.76,806.53 897.63,806.51 905.50,806.55 913.37,806.64 921.24,806.78 929.10,806.98 936.97,807.23 944.84,807.54 952.71,807.90 960.58,808.31 968.44,808.78 976.31,809.30 984.18,809.87 992.05,810.50 999.92,811.19 1007.79,811.92 1015.65,812.71 1023.52,813.56 1031.39,814.46 1039.26,815.41 1047.13,816.42 1055.00,817.48 1062.87,818.59 1070.73,819.76 1078.60,820.99 1086.47,822.26 1094.34,823.59 1102.21,824.98 1110.07,826.42 1117.94,827.91 1125.81,829.46 1133.68,831.06 1141.55,832.71 1149.42,834.42 1157.28,836.18 1165.15,838.00 1173.02,839.87 1180.89,841.79 1188.76,843.77 1196.63,845.81 1204.49,847.89 1212.36,850.03 1220.23,852.23 1228.10,854.47" fill="none" stroke="#5aa0f5" stroke-width="3.6"/>
<polyline points="756.00,892.91 763.87,892.30 771.74,891.73 779.61,891.21 787.47,890.73 795.34,890.29 803.21,889.90 811.08,889.55 818.95,889.24 826.81,888.98 834.68,888.76 842.55,888.59 850.42,888.46 858.29,888.37 866.16,888.33 874.02,888.33 881.89,888.38 889.76,888.47 897.63,888.60 905.50,888.77 913.37,889.00 921.24,889.26 929.10,889.57 936.97,889.92 944.84,890.32 952.71,890.76 960.58,891.24 968.44,891.77 976.31,892.34 984.18,892.95 992.05,893.61 999.92,894.31 1007.79,895.06 1015.65,895.85 1023.52,896.68 1031.39,897.56 1039.26,898.48 1047.13,899.45 1055.00,900.46 1062.87,901.51 1070.73,902.61 1078.60,903.75 1086.47,904.93 1094.34,906.16 1102.21,907.43 1110.07,908.75 1117.94,910.11 1125.81,911.51 1133.68,912.96 1141.55,914.45 1149.42,915.98 1157.28,917.56 1165.15,919.18 1173.02,920.85 1180.89,922.56 1188.76,924.31 1196.63,926.11 1204.49,927.95 1212.36,929.84 1220.23,931.77 1228.10,933.74" fill="none" stroke="#ffff00" stroke-width="3.6"/>
<polyline points="756.00,980.32 763.87,979.79 771.74,979.30 779.61,978.84 787.47,978.42 795.34,978.03 803.21,977.68 811.08,977.36 818.95,977.08 826.81,976.83 834.68,976.62 842.55,976.44 850.42,976.29 858.29,976.18 866.16,976.10 874.02,976.06 881.89,976.06 889.76,976.08 897.63,976.15 905.50,976.24 913.37,976.38 921.24,976.54 929.10,976.75 936.97,976.98 944.84,977.25 952.71,977.56 960.58,977.90 968.44,978.27 976.31,978.68 984.18,979.13 992.05,979.61 999.92,980.12 1007.79,980.67 1015.65,981.25 1023.52,981.87 1031.39,982.52 1039.26,983.21 1047.13,983.93 1055.00,984.68 1062.87,985.47 1070.73,986.30 1078.60,987.16 1086.47,988.06 1094.34,988.98 1102.21,989.95 1110.07,990.95 1117.94,991.98 1125.81,993.05 1133.68,994.15 1141.55,995.29 1149.42,996.46 1157.28,997.67 1165.15,998.91 1173.02,1000.19 1180.89,1001.50 1188.76,1002.84 1196.63,1004.22 1204.49,1005.64 1212.36,1007.09 1220.23,1008.57 1228.10,1010.09" fill="none" stroke="#ff4040" stroke-width="3.6"/>
<polyline points="756.00,1044.11 763.87,1043.64 771.74,1043.21 779.61,1042.80 787.47,1042.41 795.34,1042.05 803.21,1041.72 811.08,1041.42 818.95,1041.14 826.81,1040.88 834.68,1040.66 842.55,1040.46 850.42,1040.28 858.29,1040.13 866.16,1040.01 874.02,1039.92 881.89,1039.85 889.76,1039.80 897.63,1039.79 905.50,1039.80 913.37,1039.83 921.24,1039.89 929.10,1039.98 936.97,1040.09 944.84,1040.23 952.71,1040.40 960.58,1040.59 968.44,1040.81 976.31,1041.06 984.18,1041.33 992.05,1041.63 999.92,1041.95 1007.79,1042.30 1015.65,1042.68 1023.52,1043.08 1031.39,1043.51 1039.26,1043.97 1047.13,1044.45 1055.00,1044.95 1062.87,1045.49 1070.73,1046.05 1078.60,1046.63 1086.47,1047.25 1094.34,1047.89 1102.21,1048.55 1110.07,1049.24 1117.94,1049.96 1125.81,1050.70 1133.68,1051.47 1141.55,1052.27 1149.42,1053.09 1157.28,1053.94 1165.15,1054.82 1173.02,1055.72 1180.89,1056.64 1188.76,1057.60 1196.63,1058.58 1204.49,1059.58 1212.36,1060.62 1220.23,1061.68 1228.10,1062.76" fill="none" stroke="#ff9f40" stroke-width="3.6"/>
<polyline points="756.00,1084.79 763.87,1084.62 771.74,1084.46 779.61,1084.31 787.47,1084.18 795.34,1084.05 803.21,1083.94 811.08,1083.84 818.95,1083.75 826.81,1083.67 834.68,1083.60 842.55,1083.55 850.42,1083.50 858.29,1083.47 866.16,1083.45 874.02,1083.44 881.89,1083.44 889.76,1083.46 897.63,1083.48 905.50,1083.52 913.37,1083.57 921.24,1083.63 929.10,1083.70 936.97,1083.78 944.84,1083.87 952.71,1083.98 960.58,1084.10 968.44,1084.22 976.31,1084.36 984.18,1084.52 992.05,1084.68 999.92,1084.85 1007.79,1085.04 1015.65,1085.24 1023.52,1085.45 1031.39,1085.67 1039.26,1085.90 1047.13,1086.14 1055.00,1086.40 1062.87,1086.66 1070.73,1086.94 1078.60,1087.23 1086.47,1087.53 1094.34,1087.84 1102.21,1088.17 1110.07,1088.50 1117.94,1088.85 1125.81,1089.21 1133.68,1089.57 1141.55,1089.96 1149.42,1090.35 1157.28,1090.75 1165.15,1091.17 1173.02,1091.60 1180.89,1092.03 1188.76,1092.48 1196.63,1092.95 1204.49,1093.42 1212.36,1093.90 1220.23,1094.40 1228.10,1094.91" fill="none" stroke="#0000ff" stroke-width="3.6"/>
<circle cx="898.4" cy="760.3" r="11.9" fill="none" stroke="#00ffff" stroke-width="2.4"/>
<line x1="886.6" y1="760.3" x2="910.1999999999999" y2="760.3" stroke="#00ffff" stroke-width="2.9"/>
<line x1="898.4" y1="748.5" x2="898.4" y2="772.0999999999999" stroke="#00ffff" stroke-width="2.9"/>
<circle cx="909.7" cy="806.7" r="11.9" fill="none" stroke="#00ffff" stroke-width="2.4"/>
<line x1="897.9000000000001" y1="806.7" x2="921.5" y2="806.7" stroke="#00ffff" stroke-width="2.9"/>
<line x1="909.7" y1="794.9000000000001" x2="909.7" y2="818.5" stroke="#00ffff" stroke-width="2.9"/>
<circle cx="880.2" cy="888.3" r="11.9" fill="none" stroke="#00ffff" stroke-width="2.4"/>
<line x1="868.4000000000001" y1="888.3" x2="892.0" y2="888.3" stroke="#00ffff" stroke-width="2.9"/>
<line x1="880.2" y1="876.5" x2="880.2" y2="900.0999999999999" stroke="#00ffff" stroke-width="2.9"/>
<circle cx="883.3" cy="976.6" r="11.9" fill="none" stroke="#00ffff" stroke-width="2.4"/>
<line x1="871.5" y1="976.6" x2="895.0999999999999" y2="976.6" stroke="#00ffff" stroke-width="2.9"/>
<line x1="883.3" y1="964.8000000000001" x2="883.3" y2="988.4" stroke="#00ffff" stroke-width="2.9"/>
<circle cx="910.7" cy="1040.1" r="11.9" fill="none" stroke="#00ffff" stroke-width="2.4"/>
<line x1="898.9000000000001" y1="1040.1" x2="922.5" y2="1040.1" stroke="#00ffff" stroke-width="2.9"/>
<line x1="910.7" y1="1028.3" x2="910.7" y2="1051.8999999999999" stroke="#00ffff" stroke-width="2.9"/>
<circle cx="882.0" cy="1084.0" r="11.9" fill="none" stroke="#00ffff" stroke-width="2.4"/>
<line x1="870.2" y1="1084.0" x2="893.8" y2="1084.0" stroke="#00ffff" stroke-width="2.9"/>
<line x1="882.0" y1="1072.2" x2="882.0" y2="1095.8" stroke="#00ffff" stroke-width="2.9"/>
<circle cx="756.00" cy="761.40" r="8.00" fill="#000"/>
<rect x="748.10" y="806.90" width="15.80" height="15.80" fill="#000"/>
<polygon points="756.00,885.05 764.00,900.55 748.00,900.55" fill="#000"/>
<polygon points="748.00,973.75 764.00,973.75 756.00,989.25" fill="#000"/>
<polygon points="756.00,1036.70 763.80,1044.50 756.00,1052.30 748.20,1044.50" fill="#000"/>
<circle cx="756.00" cy="1085.60" r="7.2" fill="none" stroke="#000" stroke-width="3.3"/>
<circle cx="837.10" cy="769.40" r="8.00" fill="#000"/>
<rect x="829.20" y="799.30" width="15.80" height="15.80" fill="#000"/>
<polygon points="837.10,880.65 845.10,896.15 829.10,896.15" fill="#000"/>
<polygon points="829.10,965.65 845.10,965.65 837.10,981.15" fill="#000"/>
<polygon points="837.10,1030.10 844.90,1037.90 837.10,1045.70 829.30,1037.90" fill="#000"/>
<circle cx="837.10" cy="1079.00" r="7.2" fill="none" stroke="#000" stroke-width="3.3"/>
<circle cx="946.40" cy="766.50" r="8.00" fill="#000"/>
<rect x="938.50" y="804.00" width="15.80" height="15.80" fill="#000"/>
<polygon points="946.40,883.75 954.40,899.25 938.40,899.25" fill="#000"/>
<polygon points="938.40,970.05 954.40,970.05 946.40,985.55" fill="#000"/>
<polygon points="946.40,1032.30 954.20,1040.10 946.40,1047.90 938.60,1040.10" fill="#000"/>
<circle cx="946.40" cy="1085.00" r="7.2" fill="none" stroke="#000" stroke-width="3.3"/>
<circle cx="1030.30" cy="759.30" r="8.00" fill="#000"/>
<rect x="1022.40" y="805.90" width="15.80" height="15.80" fill="#000"/>
<polygon points="1030.30,892.75 1038.30,908.25 1022.30,908.25" fill="#000"/>
<polygon points="1022.30,977.55 1038.30,977.55 1030.30,993.05" fill="#000"/>
<polygon points="1030.30,1039.30 1038.10,1047.10 1030.30,1054.90 1022.50,1047.10" fill="#000"/>
<circle cx="1030.30" cy="1088.40" r="7.2" fill="none" stroke="#000" stroke-width="3.3"/>
<circle cx="1116.50" cy="776.90" r="8.00" fill="#000"/>
<rect x="1108.60" y="815.40" width="15.80" height="15.80" fill="#000"/>
<polygon points="1116.50,897.45 1124.50,912.95 1108.50,912.95" fill="#000"/>
<polygon points="1108.50,979.55 1124.50,979.55 1116.50,995.05" fill="#000"/>
<polygon points="1116.50,1037.10 1124.30,1044.90 1116.50,1052.70 1108.70,1044.90" fill="#000"/>
<circle cx="1116.50" cy="1084.70" r="7.2" fill="none" stroke="#000" stroke-width="3.3"/>
<circle cx="1228.10" cy="805.00" r="8.00" fill="#000"/>
<rect x="1220.20" y="848.00" width="15.80" height="15.80" fill="#000"/>
<polygon points="1228.10,927.95 1236.10,943.45 1220.10,943.45" fill="#000"/>
<polygon points="1220.10,1002.65 1236.10,1002.65 1228.10,1018.15" fill="#000"/>
<polygon points="1228.10,1056.10 1235.90,1063.90 1228.10,1071.70 1220.30,1063.90" fill="#000"/>
<circle cx="1228.10" cy="1095.10" r="7.2" fill="none" stroke="#000" stroke-width="3.3"/>
<rect x="90" y="1340.3" width="80" height="75.29999999999995" fill="#00b050"/>
<rect x="90" y="1415.6" width="80" height="76.20000000000005" fill="#00b0f0"/>
<rect x="90" y="1491.8" width="80" height="76.10000000000014" fill="#ffff00"/>
<rect x="90" y="1567.9" width="80" height="76.09999999999991" fill="#ff0000"/>
<rect x="90" y="1644.0" width="80" height="76.0" fill="#ffc000"/>
<rect x="90" y="1720.0" width="80" height="76.0" fill="#0070c0"/>
<line x1="89" y1="1252.5" x2="1294.8" y2="1252.5" stroke="#000" stroke-width="2.2"/>
<line x1="89" y1="1415.6" x2="1294.8" y2="1415.6" stroke="#000" stroke-width="2.2"/>
<line x1="89" y1="1491.8" x2="1294.8" y2="1491.8" stroke="#000" stroke-width="2.2"/>
<line x1="89" y1="1567.9" x2="1294.8" y2="1567.9" stroke="#000" stroke-width="2.2"/>
<line x1="89" y1="1644.0" x2="1294.8" y2="1644.0" stroke="#000" stroke-width="2.2"/>
<line x1="89" y1="1720.0" x2="1294.8" y2="1720.0" stroke="#000" stroke-width="2.2"/>
<line x1="89" y1="1796.0" x2="1294.8" y2="1796.0" stroke="#000" stroke-width="2.2"/>
<line x1="169" y1="1872.3" x2="1294.8" y2="1872.3" stroke="#000" stroke-width="2.2"/>
<line x1="169" y1="1947.9" x2="1294.8" y2="1947.9" stroke="#000" stroke-width="2.2"/>
<line x1="89" y1="1340.3" x2="1294.8" y2="1340.3" stroke="#000" stroke-width="7"/>
<line x1="90" y1="1251.5" x2="90" y2="1797.0" stroke="#000" stroke-width="2.2"/>
<line x1="1293.8" y1="1251.5" x2="1293.8" y2="1948.9" stroke="#000" stroke-width="2.2"/>
<line x1="170" y1="1251.5" x2="170" y2="1796.0" stroke="#000" stroke-width="7"/>
<line x1="170" y1="1796.0" x2="170" y2="1948.9" stroke="#000" stroke-width="2.2"/>
<line x1="672.2" y1="1251.5" x2="672.2" y2="1797.0" stroke="#000" stroke-width="6.8"/>
<line x1="968.1" y1="1251.5" x2="968.1" y2="1948.9" stroke="#000" stroke-width="6.8"/>
<text transform="translate(421.00,1289.60) scale(0.9695,1)" font-size="29.5" font-weight="bold" text-anchor="middle">Age-correction</text>
<text transform="translate(421.00,1324.30) scale(0.9695,1)" font-size="29.5" font-weight="bold" text-anchor="middle">regression functions</text>
<text transform="translate(821.00,1289.60) scale(0.9695,1)" font-size="29.5" font-weight="bold" text-anchor="middle">Vertex age</text>
<text transform="translate(1129.20,1289.60) scale(0.9695,1)" font-size="29.5" font-weight="bold" text-anchor="middle">Slope µm/yr</text>
<text transform="translate(1131.00,1324.30) scale(0.9695,1)" font-size="29.5" font-weight="bold" text-anchor="middle">(% of peak thickness)</text>
<text transform="translate(114.4,1388.25) scale(0.95,1)" font-size="28.8" font-weight="bold">C<tspan font-size="18.2" dy="6.1" dx="1.6">1</tspan></text>
<text transform="translate(421,1389.15) scale(0.9297,1)" font-size="30.6" text-anchor="middle"><tspan font-style="italic">y</tspan> = -0.003404<tspan font-style="italic">x</tspan><tspan font-size="19.5" dy="-12.2">2</tspan><tspan dy="12.2"> + 0.2717</tspan><tspan font-style="italic">x</tspan> + 51.54</text>
<text transform="translate(821.00,1389.15) scale(0.9346,1)" font-size="30.6" font-weight="normal" text-anchor="middle">39.9</text>
<text transform="translate(1131.00,1389.15) scale(0.9346,1)" font-size="30.6" font-weight="normal" text-anchor="middle">-0.1447 (-0.25)</text>
<text transform="translate(114.4,1464.00) scale(0.95,1)" font-size="28.8" font-weight="bold">C<tspan font-size="18.2" dy="6.1" dx="1.6">2</tspan></text>
<text transform="translate(421,1464.90) scale(0.9297,1)" font-size="30.6" text-anchor="middle"><tspan font-style="italic">y</tspan> = -0.004052<tspan font-style="italic">x</tspan><tspan font-size="19.5" dy="-12.2">2</tspan><tspan dy="12.2"> + 0.3282</tspan><tspan font-style="italic">x</tspan> + 45.37</text>
<text transform="translate(821.00,1464.90) scale(0.9346,1)" font-size="30.6" font-weight="normal" text-anchor="middle">40.5</text>
<text transform="translate(1131.00,1464.90) scale(0.9346,1)" font-size="30.6" font-weight="normal" text-anchor="middle">-0.1573 (-0.3)</text>
<text transform="translate(114.4,1540.15) scale(0.95,1)" font-size="28.8" font-weight="bold">C<tspan font-size="18.2" dy="6.1" dx="1.6">3</tspan></text>
<text transform="translate(421,1541.05) scale(0.9297,1)" font-size="30.6" text-anchor="middle"><tspan font-style="italic">y</tspan> = -0.003290<tspan font-style="italic">x</tspan><tspan font-size="19.5" dy="-12.2">2</tspan><tspan dy="12.2"> + 0.2478</tspan><tspan font-style="italic">x</tspan> + 38.63</text>
<text transform="translate(821.00,1541.05) scale(0.9346,1)" font-size="30.6" font-weight="normal" text-anchor="middle">37.7</text>
<text transform="translate(1131.00,1541.05) scale(0.9346,1)" font-size="30.6" font-weight="normal" text-anchor="middle">-0.15 (-0.35)</text>
<text transform="translate(114.4,1616.25) scale(0.95,1)" font-size="28.8" font-weight="bold">C<tspan font-size="18.2" dy="6.1" dx="1.6">4</tspan></text>
<text transform="translate(421,1617.15) scale(0.9297,1)" font-size="30.6" text-anchor="middle"><tspan font-style="italic">y</tspan> = -0.002603<tspan font-style="italic">x</tspan><tspan font-size="19.5" dy="-12.2">2</tspan><tspan dy="12.2"> + 0.2014</tspan><tspan font-style="italic">x</tspan> + 30.05</text>
<text transform="translate(821.00,1617.15) scale(0.9346,1)" font-size="30.6" font-weight="normal" text-anchor="middle">38.7</text>
<text transform="translate(1131.00,1617.15) scale(0.9346,1)" font-size="30.6" font-weight="normal" text-anchor="middle">-0.1096 (-0.32)</text>
<text transform="translate(114.4,1692.30) scale(0.95,1)" font-size="28.8" font-weight="bold">C<tspan font-size="18.2" dy="6.1" dx="1.6">5</tspan></text>
<text transform="translate(421,1693.20) scale(0.9297,1)" font-size="30.6" text-anchor="middle"><tspan font-style="italic">y</tspan> = -0.001970<tspan font-style="italic">x</tspan><tspan font-size="19.5" dy="-12.2">2</tspan><tspan dy="12.2"> + 0.1606</tspan><tspan font-style="italic">x</tspan> + 23.88</text>
<text transform="translate(821.00,1693.20) scale(0.9346,1)" font-size="30.6" font-weight="normal" text-anchor="middle">40.8</text>
<text transform="translate(1131.00,1693.20) scale(0.9346,1)" font-size="30.6" font-weight="normal" text-anchor="middle">-0.0739 (-0.27)</text>
<text transform="translate(114.4,1768.30) scale(0.95,1)" font-size="28.8" font-weight="bold">C<tspan font-size="18.2" dy="6.1" dx="1.6">6</tspan></text>
<text transform="translate(421,1769.20) scale(0.9297,1)" font-size="30.6" text-anchor="middle"><tspan font-style="italic">y</tspan> = -0.0008625<tspan font-style="italic">x</tspan><tspan font-size="19.5" dy="-12.2">2</tspan><tspan dy="12.2"> + 0.0662</tspan><tspan font-style="italic">x</tspan> + 21.23</text>
<text transform="translate(821.00,1769.20) scale(0.9346,1)" font-size="30.6" font-weight="normal" text-anchor="middle">38.4</text>
<text transform="translate(1131.00,1769.20) scale(0.9346,1)" font-size="30.6" font-weight="normal" text-anchor="middle">-0.03001 (-0.13)</text>
<text transform="translate(945.80,1845.90) scale(0.9695,1)" font-size="29.5" font-weight="bold" text-anchor="end">Comparison of slopes</text>
<text transform="translate(1131.00,1845.90) scale(0.9346,1)" font-size="30.6" font-weight="normal" text-anchor="middle">All slopes, p = 0.16</text>
<text transform="translate(945.80,1922.00) scale(0.9695,1)" font-size="29.5" font-weight="bold" text-anchor="end">Pooled slope</text>
<text transform="translate(1131.00,1922.00) scale(0.9346,1)" font-size="30.6" font-weight="normal" text-anchor="middle">-0.1109</text>
</svg>
</body></html>
